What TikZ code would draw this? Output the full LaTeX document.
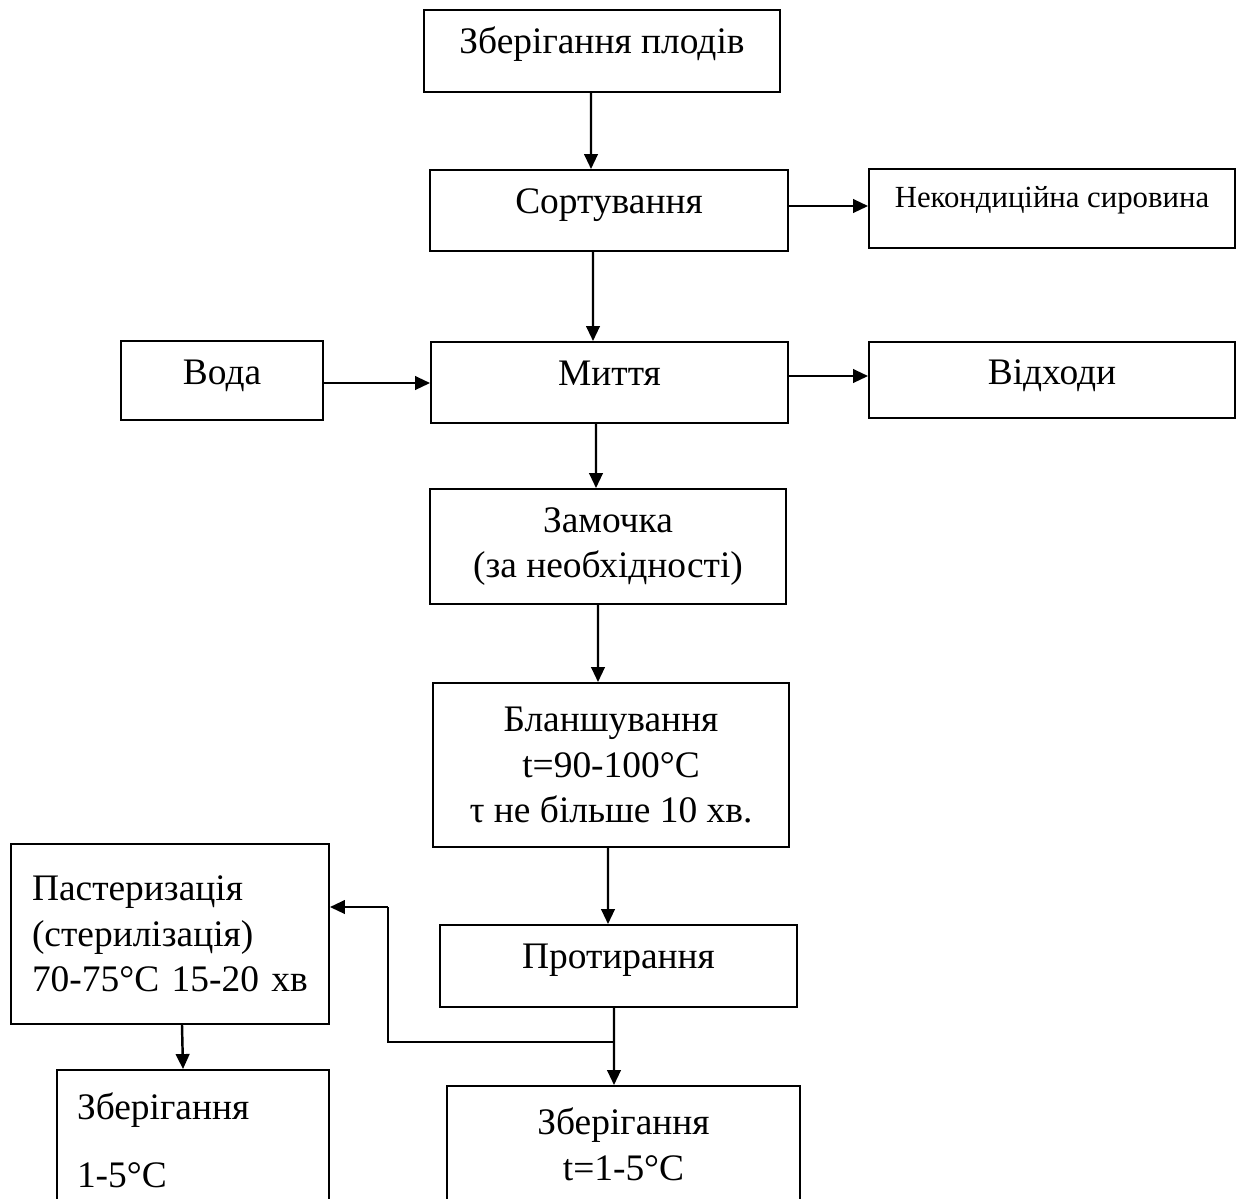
\documentclass[tikz,border=0pt]{standalone}
\usepackage{fontspec}
\setmainfont{Liberation Serif}
\usetikzlibrary{arrows.meta,positioning}

\begin{document}
\begin{tikzpicture}[x=0.02cm, y=-0.02cm,
  box/.style={draw, line width=1.1pt, font=\fontsize{21.3}{26}\selectfont, align=center, inner sep=0pt},
  oneline/.style={text height=0.5cm, text depth=0.4cm},
  arr/.style={line width=1.4pt, -{Triangle[length=0.3cm,width=0.27cm]}},
  link/.style={line width=1.1pt}]

\useasboundingbox (0,0) rectangle (1236,1198);

% Main line
\node[box, oneline, minimum width=7.12cm, minimum height=1.64cm] (plod) at (602,51) {Зберігання плодів};
\node[box, oneline, minimum width=7.16cm, minimum height=1.62cm] (sort) at (609,210.5) {Сортування};
\node[box, oneline, minimum width=7.14cm, minimum height=1.62cm] (mytt) at (609.5,382.5) {Миття};
\node[box, minimum width=7.12cm, minimum height=2.30cm] (zam) at (608,546.5) {Замочка\\(за необхідності)};
\node[box, minimum width=7.12cm, minimum height=3.28cm] (blansh) at (611,765) {Бланшування\\t=90-100°C\\τ не більше 10 хв.};
\node[box, oneline, minimum width=7.14cm, minimum height=1.64cm] (prot) at (618.5,966) {Протирання};
\node[box, minimum width=7.06cm, minimum height=2.34cm] (zbt) at (623.5,1144.5) {Зберігання\\t=1-5°C};

% Side boxes
\node[box, minimum width=7.32cm, minimum height=1.58cm, font=\fontsize{17.5}{21}\selectfont, text height=0.42cm, text depth=0.45cm] (nekond) at (1052,208.5) {Некондиційна сировина};
\node[box, oneline, minimum width=4.04cm, minimum height=1.58cm, text depth=0.34cm] (voda) at (222,380.5) {Вода};
\node[box, oneline, minimum width=7.32cm, minimum height=1.52cm, text depth=0.34cm] (vidh) at (1052,380) {Відходи};

% Left branch
\node[box, text width=5.52cm, inner xsep=0.42cm, align=left, minimum height=3.60cm] (past) at (170,934) {Пастеризація\\(стерилізація)\\70-75°C 15-20 хв};
\node[box, text width=4.64cm, inner xsep=0.40cm, align=left, minimum height=2.82cm] (zbl) at (193,1140.5) {Зберігання\\[0.44cm]1-5°C};

% Arrows
\draw[arr] ([xshift=-0.22cm]plod.south) -- ([xshift=-0.36cm]sort.north);
\draw[arr] ([xshift=-0.32cm]sort.south) -- ([xshift=-0.33cm]mytt.north);
\draw[arr] ([xshift=-0.27cm]mytt.south) -- ([xshift=-0.24cm]zam.north);
\draw[arr] ([xshift=-0.20cm]zam.south) -- ([xshift=-0.26cm]blansh.north);
\draw[arr] ([xshift=-0.06cm]blansh.south) -- ([xshift=-0.21cm]prot.north);
\draw[arr] ([xshift=-0.09cm]prot.south) -- ([xshift=-0.19cm]zbt.north);

\draw[arr] ([yshift=0.09cm]sort.east) -- ([yshift=0.09cm]sort.east -| nekond.west);
\draw[arr] ([yshift=-0.05cm]voda.east) -- ([yshift=-0.05cm]voda.east -| mytt.west);
\draw[arr] ([yshift=0.13cm]mytt.east) -- ([yshift=0.13cm]mytt.east -| vidh.west);

% Fork to pasteurisation
\coordinate (fork) at (614,1042);
\coordinate (turn) at (388,1042);
\coordinate (up) at (388,907);
\draw[link] (fork) -- (turn) -- (up);
\draw[arr] (up) -- (up -| past.east);
\draw[arr] ([xshift=0.24cm]past.south) -- ([xshift=-0.20cm]zbl.north);

\end{tikzpicture}
\end{document}
